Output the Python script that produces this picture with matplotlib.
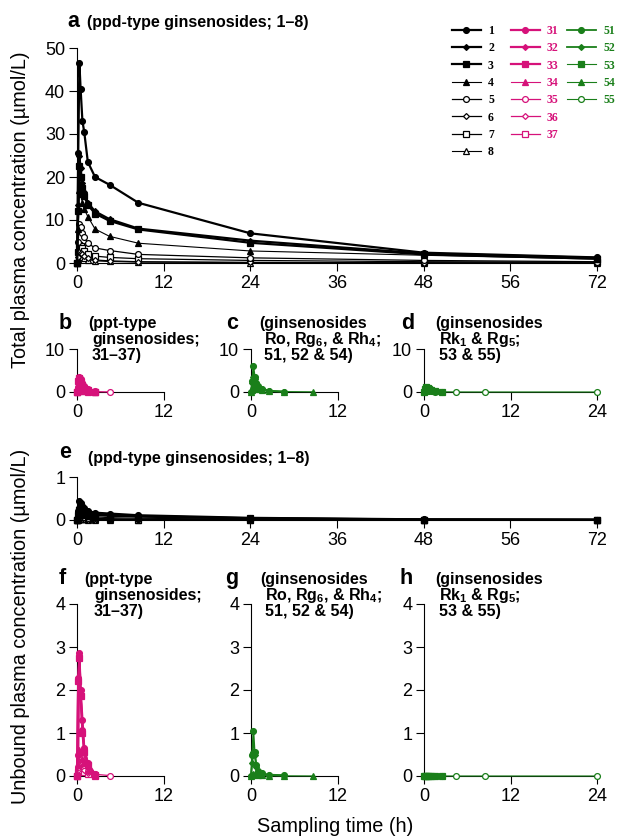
import matplotlib
matplotlib.use('Agg')
import matplotlib.pyplot as plt
from matplotlib.lines import Line2D
from matplotlib.font_manager import FontProperties

plt.rcParams['font.family'] = ['Liberation Sans', 'DejaVu Sans']
plt.rcParams['mathtext.fontset'] = 'custom'
plt.rcParams['mathtext.rm'] = 'Liberation Sans'
plt.rcParams['mathtext.bf'] = 'Liberation Sans:bold'

# ---------------- data ----------------
T = [0, 0.17, 0.33, 0.5, 0.75, 1, 1.5, 2.5, 4.5, 8.5, 24, 48, 72]

# total plasma, ppd-type (panel a)
tot_1 = [0, 25.5, 46.5, 40.5, 33.0, 30.5, 23.5, 20.0, 18.2, 14.0, 6.9, 2.4, 1.3]
tot_2 = [0, 13.5, 25.0, 22.0, 18.5, 16.5, 14.0, 12.0, 10.2, 8.0, 5.2, 2.2, 1.2]
tot_3 = [0, 12.0, 22.5, 20.0, 17.5, 15.5, 13.5, 11.5, 9.8, 7.8, 4.7, 2.0, 1.0]
tot_4 = [0, 8.0, 17.0, 16.0, 14.0, 12.5, 10.8, 7.9, 6.2, 4.6, 2.8, 1.8, 0.9]
tot_5 = [0, 5.0, 9.0, 8.3, 7.0, 6.0, 4.6, 3.5, 2.9, 2.0, 1.2, 0.6, 0.3]
tot_6 = [0, 1.5, 2.6, 2.4, 2.0, 1.6, 1.1, 0.7, 0.5, 0.3, 0.15, 0.05, 0.02]
tot_7 = [0, 2.5, 4.2, 4.0, 3.4, 2.8, 2.1, 1.6, 1.3, 1.0, 0.6, 0.3, 0.2]
tot_8 = [0, 1.0, 1.8, 1.7, 1.4, 1.1, 0.8, 0.5, 0.35, 0.2, 0.1, 0.05, 0.02]

# unbound plasma, ppd-type (panel e)
unb_1 = [0, 0.22, 0.45, 0.40, 0.32, 0.27, 0.21, 0.17, 0.15, 0.11, 0.05, 0.015, 0.008]
unb_2 = [0, 0.15, 0.30, 0.28, 0.23, 0.19, 0.15, 0.13, 0.11, 0.09, 0.04, 0.012, 0.006]
unb_3 = [0, 0.12, 0.24, 0.22, 0.19, 0.16, 0.13, 0.11, 0.10, 0.08, 0.035, 0.010, 0.005]
unb_4 = [0, 0.08, 0.16, 0.15, 0.13, 0.11, 0.09, 0.07, 0.055, 0.04, 0.02, 0.008, 0.004]
unb_5 = [0, 0.05, 0.09, 0.08, 0.07, 0.06, 0.045, 0.035, 0.03, 0.02, 0.01, 0.004, 0.002]
unb_6 = [0, 0.01, 0.02, 0.02, 0.015, 0.012, 0.008, 0.005, 0.004, 0.003, 0.001, 0.0005, 0.0002]
unb_7 = [0, 0.02, 0.04, 0.035, 0.03, 0.025, 0.02, 0.015, 0.012, 0.01, 0.006, 0.003, 0.002]
unb_8 = [0, 0.01, 0.02, 0.018, 0.015, 0.012, 0.009, 0.006, 0.004, 0.002, 0.001, 0.0005, 0.0002]

# total plasma, ppt-type (panel b)
tot_31 = [0, 1.2, 3.5, 3.0, 2.1, 1.3, 0.6, 0.12]
tot_32 = [0, 2.8, 3.4, 2.6, 1.8, 1.1, 0.5, 0.10]
tot_33 = [0, 2.5, 3.2, 2.4, 1.6, 1.0, 0.45, 0.08]
tot_34 = [0, 0.5, 1.2, 1.1, 0.8, 0.6, 0.3, 0.05]
tot_35 = [0, 0.4, 1.0, 0.9, 0.7, 0.5, 0.3, 0.08, 0.02]
tot_36 = [0, 0.3, 0.7, 0.6, 0.4, 0.3, 0.15, 0.03]
tot_37 = [0, 0.2, 0.5, 0.45, 0.3, 0.2, 0.1, 0.02]

# unbound plasma, ppt-type (panel f)
unb_31 = [0, 0.5, 2.85, 2.0, 1.3, 0.65, 0.3, 0.04]
unb_32 = [0, 2.3, 2.8, 1.9, 1.1, 0.6, 0.28, 0.04]
unb_33 = [0, 2.2, 2.75, 1.85, 1.0, 0.55, 0.25, 0.03]
unb_34 = [0, 0.25, 0.6, 0.55, 0.4, 0.3, 0.15, 0.02]
unb_35 = [0, 0.2, 0.5, 0.45, 0.35, 0.25, 0.12, 0.04, 0.01]
unb_36 = [0, 0.15, 0.35, 0.3, 0.2, 0.15, 0.08, 0.01]
unb_37 = [0, 0.1, 0.2, 0.2, 0.15, 0.1, 0.05, 0.01]

# total plasma, Ro/Rg6/Rh4 (panel c) and Rk1/Rg5 (panel d)
tot_51 = [0, 2.5, 6.0, 3.6, 2.2, 1.4, 0.8, 0.3, 0.1]
tot_52 = [0, 2.0, 3.5, 3.0, 2.0, 1.2, 0.6, 0.2, 0.08]
tot_54 = [0, 0.5, 1.5, 1.4, 1.0, 0.7, 0.4, 0.2, 0.1, 0.05]
tot_53 = [0, 0.6, 1.2, 1.0, 0.8, 0.5, 0.2, 0.05]
tot_55 = [0, 0.1, 0.3, 0.3, 0.2, 0.15, 0.1, 0.05, 0.02, 0.01, 0.005]

# unbound plasma (panels g, h)
unb_51 = [0, 0.5, 1.05, 0.55, 0.25, 0.12, 0.06, 0.03, 0.02]
unb_52 = [0, 0.3, 0.55, 0.5, 0.22, 0.1, 0.05, 0.02, 0.01]
unb_54 = [0, 0.02, 0.05, 0.05, 0.04, 0.03, 0.02, 0.01, 0.005, 0.002]
unb_53 = [0, 0.005, 0.01, 0.01, 0.008, 0.005, 0.003, 0.001]
unb_55 = [0, 0.001, 0.002, 0.002, 0.002, 0.001, 0.001, 0.001, 0.0005, 0.0003, 0.0002]

ticks_72 = [0, 12, 24, 36, 48, 60, 72]
ticklabels_72 = ['0', '12', '24', '36', '48', '56', '72']

legend_groups = [[1, 2, 3, 4, 5, 6, 7, 8], [31, 32, 33, 34, 35, 36, 37], [51, 52, 53, 54, 55]]

# ---------------- styles ----------------
BLACK = '#000000'
MAG = '#d6127a'
GRN = '#1a7f1a'

STY = {
    1: dict(c=BLACK, m='o', f=True, lw=1.6, ms=4.2),
    2: dict(c=BLACK, m='D', f=True, lw=1.6, ms=3.0),
    3: dict(c=BLACK, m='s', f=True, lw=1.6, ms=3.8),
    4: dict(c=BLACK, m='^', f=True, lw=0.8, ms=4.2),
    5: dict(c=BLACK, m='o', f=False, lw=0.9, ms=4.2),
    6: dict(c=BLACK, m='D', f=False, lw=0.9, ms=3.0),
    7: dict(c=BLACK, m='s', f=False, lw=0.9, ms=3.8),
    8: dict(c=BLACK, m='^', f=False, lw=0.8, ms=4.2),
    31: dict(c=MAG, m='o', f=True, lw=1.6, ms=4.2),
    32: dict(c=MAG, m='D', f=True, lw=1.6, ms=3.0),
    33: dict(c=MAG, m='s', f=True, lw=1.6, ms=3.8),
    34: dict(c=MAG, m='^', f=True, lw=0.8, ms=4.2),
    35: dict(c=MAG, m='o', f=False, lw=0.9, ms=4.2),
    36: dict(c=MAG, m='D', f=False, lw=0.9, ms=3.0),
    37: dict(c=MAG, m='s', f=False, lw=0.9, ms=3.8),
    51: dict(c=GRN, m='o', f=True, lw=1.3, ms=4.2),
    52: dict(c=GRN, m='D', f=True, lw=1.3, ms=3.0),
    53: dict(c=GRN, m='s', f=True, lw=0.8, ms=3.8),
    54: dict(c=GRN, m='^', f=True, lw=0.8, ms=4.2),
    55: dict(c=GRN, m='o', f=False, lw=0.8, ms=4.2),
}


def kw(i):
    s = STY[i]
    return dict(color=s['c'], lw=s['lw'], marker=s['m'], ms=s['ms'],
                mfc=s['c'] if s['f'] else 'white', mec=s['c'], mew=0.9,
                clip_on=False)


W, H = 619, 836
fig = plt.figure(figsize=(W / 100, H / 100), dpi=100)

FS_TICK = 13
FS_LAB = 14.3


def add_ax(x0, x1, y0, y1, xmax, ymax, xt, xtl, yt):
    ax = fig.add_axes([x0 / W, 1 - y0 / H, (x1 - x0) / W, (y0 - y1) / H])
    ax.set_xlim(0, xmax)
    ax.set_ylim(0, ymax)
    for s in ('top', 'right'):
        ax.spines[s].set_visible(False)
    for s in ('left', 'bottom'):
        ax.spines[s].set_linewidth(0.8)
    ax.set_xticks(xt)
    ax.set_xticklabels(xtl)
    ax.set_yticks(yt)
    ax.tick_params(direction='out', length=6, width=0.8, labelsize=FS_TICK, pad=2.5)
    ax.patch.set_alpha(0)
    return ax


def series(ax, ids, data):
    for i in reversed(ids):
        y = data[i]
        ax.plot(T[:len(y)], y, zorder=3 + (10 - ids.index(i)) * 0.1, **kw(i))


# panel a
ax_a = add_ax(77, 597, 263, 48, 72, 50, ticks_72, ticklabels_72, [0, 10, 20, 30, 40, 50])
series(ax_a, [1, 2, 3, 4, 5, 6, 7, 8],
       {1: tot_1, 2: tot_2, 3: tot_3, 4: tot_4, 5: tot_5, 6: tot_6, 7: tot_7, 8: tot_8})

# panels b, c, d
ax_b = add_ax(77, 164, 392, 349, 12, 10, [0, 12], ['0', '12'], [0, 10])
series(ax_b, [31, 32, 33, 34, 35, 36, 37],
       {31: tot_31, 32: tot_32, 33: tot_33, 34: tot_34, 35: tot_35, 36: tot_36, 37: tot_37})
ax_c = add_ax(251, 338, 392, 349, 12, 10, [0, 12], ['0', '12'], [0, 10])
series(ax_c, [51, 52, 54], {51: tot_51, 52: tot_52, 54: tot_54})
ax_d = add_ax(424, 597, 392, 349, 24, 10, [0, 12, 24], ['0', '12', '24'], [0, 10])
series(ax_d, [53, 55], {53: tot_53, 55: tot_55})

# panel e
ax_e = add_ax(77, 597, 520, 477, 72, 1, ticks_72, ticklabels_72, [0, 1])
series(ax_e, [1, 2, 3, 4, 5, 6, 7, 8],
       {1: unb_1, 2: unb_2, 3: unb_3, 4: unb_4, 5: unb_5, 6: unb_6, 7: unb_7, 8: unb_8})

# panels f, g, h
ax_f = add_ax(77, 164, 776, 604, 12, 4, [0, 12], ['0', '12'], [0, 1, 2, 3, 4])
series(ax_f, [31, 32, 33, 34, 35, 36, 37],
       {31: unb_31, 32: unb_32, 33: unb_33, 34: unb_34, 35: unb_35, 36: unb_36, 37: unb_37})
ax_g = add_ax(251, 338, 776, 604, 12, 4, [0, 12], ['0', '12'], [0, 1, 2, 3, 4])
series(ax_g, [51, 52, 54], {51: unb_51, 52: unb_52, 54: unb_54})
ax_h = add_ax(424, 597, 776, 604, 24, 4, [0, 12, 24], ['0', '12', '24'], [0, 1, 2, 3, 4])
series(ax_h, [53, 55], {53: unb_53, 55: unb_55})


# ---------------- texts ----------------
def ftext(x, y, s, **k):
    fig.text(x / W, 1 - y / H, s, **k)


LET = dict(fontsize=15.5, fontweight='bold', va='baseline', ha='left')
TIT = dict(fontsize=11.5, fontweight='bold', va='baseline', ha='left')

ftext(67, 27, 'a', **LET)
ftext(87, 27, '(ppd-type ginsenosides; 1–8)', **TIT)

ftext(59, 329, 'b', **LET)
ftext(88, 328, '(ppt-type', **TIT)
ftext(92, 344, 'ginsenosides;', **TIT)
ftext(92, 360, '31–37)', **TIT)

ftext(226, 329, 'c', **LET)
ftext(259, 328, '(ginsenosides', **TIT)
ftext(264, 344, r'Ro, Rg$_\mathbf{6}$, & Rh$_\mathbf{4}$;', **TIT)
ftext(264, 360, '51, 52 & 54)', **TIT)

ftext(401, 329, 'd', **LET)
ftext(435, 328, '(ginsenosides', **TIT)
ftext(439, 344, r'Rk$_\mathbf{1}$ & Rg$_\mathbf{5}$;', **TIT)
ftext(439, 360, '53 & 55)', **TIT)

ftext(59, 458, 'e', **LET)
ftext(88, 463, '(ppd-type ginsenosides; 1–8)', **TIT)

ftext(59, 584, 'f', **LET)
ftext(84, 584, '(ppt-type', **TIT)
ftext(94, 600, 'ginsenosides;', **TIT)
ftext(94, 616, '31–37)', **TIT)

ftext(225, 584, 'g', **LET)
ftext(260, 584, '(ginsenosides', **TIT)
ftext(265, 600, r'Ro, Rg$_\mathbf{6}$, & Rh$_\mathbf{4}$;', **TIT)
ftext(265, 616, '51, 52 & 54)', **TIT)

ftext(399, 584, 'h', **LET)
ftext(435, 584, '(ginsenosides', **TIT)
ftext(439, 600, r'Rk$_\mathbf{1}$ & Rg$_\mathbf{5}$;', **TIT)
ftext(439, 616, '53 & 55)', **TIT)

ftext(21, 210, 'Total plasma concentration (µmol/L)', rotation=90,
      va='center', ha='center', fontsize=FS_LAB)
ftext(21, 626, 'Unbound plasma concentration (µmol/L)', rotation=90,
      va='center', ha='center', fontsize=FS_LAB)
ftext(335, 827, 'Sampling time (h)', va='center', ha='center', fontsize=FS_LAB)

# ---------------- legend (three columns) ----------------
leg_font = FontProperties(family='Liberation Serif', weight='bold', size=8.5)
for group, xleft in zip(legend_groups, (452, 511, 567)):
    handles = [Line2D([], [], **{k: v for k, v in kw(i).items() if k != 'clip_on'})
               for i in group]
    leg = fig.legend(handles, [str(i) for i in group], loc='upper left',
                     bbox_to_anchor=(xleft / W, 1 - 25 / H), ncol=1, frameon=False,
                     prop=leg_font, handlelength=2.45, handletextpad=0.6,
                     labelspacing=0.45, borderpad=0, borderaxespad=0)
    for t, i in zip(leg.get_texts(), group):
        t.set_color(STY[i]['c'])

fig.savefig('out.png', dpi=100)
